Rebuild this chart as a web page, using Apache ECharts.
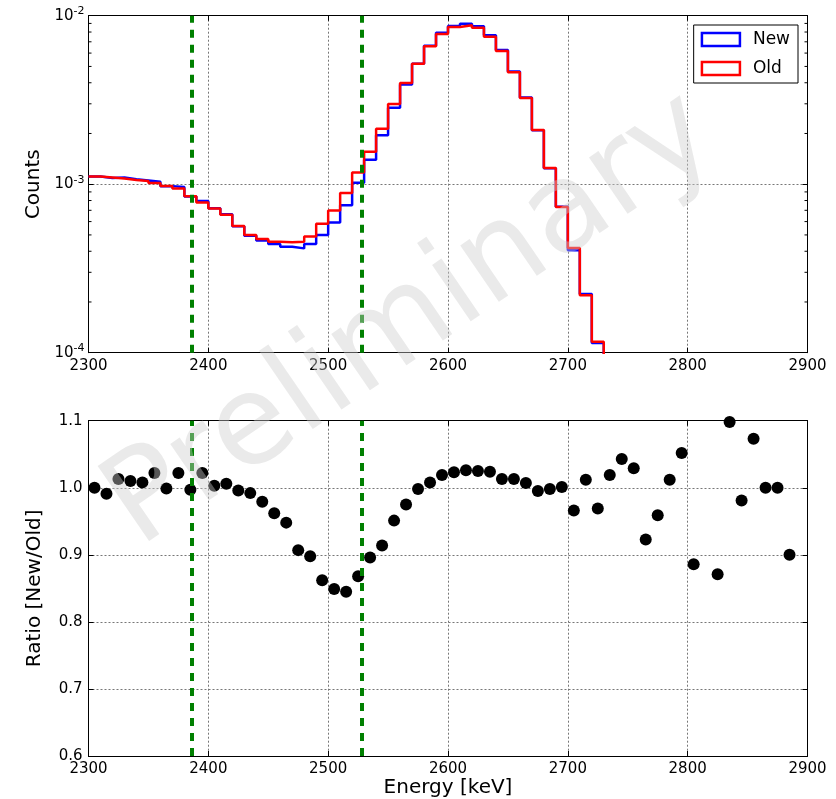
<!DOCTYPE html>
<html>
<head>
<meta charset="utf-8">
<script src="https://cdn.jsdelivr.net/npm/echarts@6/dist/echarts.min.js"></script>
<style>
  html, body { margin: 0; padding: 0; background: #fff; }
  #main { width: 836px; height: 799px; }
</style>
</head>
<body>
<div id="main"></div>
<script>
// left edges of the 10 keV bins (keV)
var binEdges = [2300, 2310, 2320, 2330, 2340, 2350, 2360, 2370, 2380, 2390,
  2400, 2410, 2420, 2430, 2440, 2450, 2460, 2470, 2480, 2490,
  2500, 2510, 2520, 2530, 2540, 2550, 2560, 2570, 2580, 2590,
  2600, 2610, 2620, 2630, 2640, 2650, 2660, 2670, 2680, 2690,
  2700, 2710, 2720];
var histEnd = 2730;

// counts per bin
var newCounts = [1.11e-3, 1.088e-3, 1.095e-3, 1.07e-3, 1.053e-3, 1.035e-3, 0.974e-3, 0.962e-3, 0.845e-3, 0.795e-3,
  0.72e-3, 0.663e-3, 0.563e-3, 0.495e-3, 0.463e-3, 0.441e-3, 0.426e-3, 0.416e-3, 0.442e-3, 0.5e-3,
  0.593e-3, 0.75e-3, 1.02e-3, 1.395e-3, 1.95e-3, 2.84e-3, 3.9e-3, 5.18e-3, 6.63e-3, 7.93e-3,
  8.7e-3, 8.95e-3, 8.65e-3, 7.65e-3, 6.26e-3, 4.66e-3, 3.27e-3, 2.09e-3, 1.245e-3, 0.734e-3,
  0.405e-3, 0.223e-3, 0.114e-3];
var oldCounts = [1.11e-3, 1.097e-3, 1.08e-3, 1.06e-3, 1.045e-3, 1.016e-3, 0.975e-3, 0.944e-3, 0.847e-3, 0.78e-3,
  0.718e-3, 0.659e-3, 0.565e-3, 0.499e-3, 0.473e-3, 0.456e-3, 0.452e-3, 0.456e-3, 0.49e-3, 0.583e-3,
  0.698e-3, 0.887e-3, 1.175e-3, 1.56e-3, 2.13e-3, 2.99e-3, 3.99e-3, 5.19e-3, 6.58e-3, 7.79e-3,
  8.57e-3, 8.77e-3, 8.49e-3, 7.5e-3, 6.18e-3, 4.61e-3, 3.25e-3, 2.1e-3, 1.247e-3, 0.733e-3,
  0.418e-3, 0.219e-3, 0.116e-3];

// ratio New/Old at bin centres
var ratioEnergy = [2305, 2315, 2325, 2335, 2345, 2355, 2365, 2375, 2385, 2395,
  2405, 2415, 2425, 2435, 2445, 2455, 2465, 2475, 2485, 2495,
  2505, 2515, 2525, 2535, 2545, 2555, 2565, 2575, 2585, 2595,
  2605, 2615, 2625, 2635, 2645, 2655, 2665, 2675, 2685, 2695,
  2705, 2715, 2725, 2735, 2745, 2755, 2765, 2775, 2785, 2795,
  2805, 2825, 2835, 2845, 2855, 2865, 2875, 2885];
var ratioValues = [1.0, 0.991, 1.013, 1.01, 1.008, 1.022, 0.999, 1.022, 0.997, 1.022,
  1.003, 1.006, 0.996, 0.992, 0.979, 0.962, 0.948, 0.907, 0.898, 0.862,
  0.849, 0.845, 0.868, 0.896, 0.914, 0.951, 0.975, 0.998, 1.008, 1.019,
  1.023, 1.026, 1.025, 1.024, 1.013, 1.013, 1.007, 0.995, 0.998, 1.001,
  0.966, 1.012, 0.969, 1.019, 1.043, 1.029, 0.923, 0.959, 1.012, 1.052,
  0.886, 0.871, 1.098, 0.981, 1.073, 1.0, 1.0, 0.9];

// region of interest lines
var roiLines = [2386, 2528];

// minor ticks of the log axis
var logMinorTicks = [2e-4, 3e-4, 4e-4, 5e-4, 6e-4, 7e-4, 8e-4, 9e-4,
  2e-3, 3e-3, 4e-3, 5e-3, 6e-3, 7e-3, 8e-3, 9e-3];

var font = 'DejaVu Sans';

function stepData(counts) {
  var d = [];
  for (var i = 0; i < binEdges.length; i++) d.push([binEdges[i], counts[i]]);
  d.push([histEnd, 1e-7]); // drops off the bottom after the last bin
  return d;
}

var scatterData = [];
for (var i = 0; i < ratioEnergy.length; i++) scatterData.push([ratioEnergy[i], ratioValues[i]]);

var gridLine = { show: true, lineStyle: { color: '#777', type: [2, 2], width: 1 } };
var axisLine = { show: true, onZero: false, lineStyle: { color: '#000', width: 1 } };
var tickIn = { show: true, inside: true, length: 5, lineStyle: { color: '#000' } };

function xAxisFor(grid, pos, labels) {
  return {
    type: 'value', gridIndex: grid, position: pos, min: 2300, max: 2900, interval: 100,
    axisLine: axisLine, axisTick: tickIn,
    axisLabel: {
      show: labels, color: '#000', fontFamily: font, fontSize: 15, margin: 6,
      formatter: function (v) { return String(v); }
    },
    splitLine: labels ? gridLine : { show: false }
  };
}

var roiMark = {
  silent: true, symbol: 'none', label: { show: false },
  lineStyle: { color: '#008000', width: 4, type: [8, 7], opacity: 1 },
  data: roiLines.map(function (v) { return { xAxis: v }; })
};

var option = {
  animation: false,
  backgroundColor: '#fff',
  grid: [
    { left: 88.5, top: 15.7, width: 719, height: 337 },
    { left: 88.5, top: 420.7, width: 719, height: 337.6 }
  ],
  legend: {
    right: 38, top: 25, orient: 'vertical',
    backgroundColor: '#fff', borderColor: '#000', borderWidth: 1, borderRadius: 0,
    padding: [6, 8, 6, 7], itemGap: 12, itemWidth: 38, itemHeight: 13,
    textStyle: { fontFamily: font, fontSize: 17, color: '#000', padding: [0, 0, 0, 8] },
    data: [
      { name: 'New', icon: 'rect', itemStyle: { color: 'rgba(0,0,0,0)', borderColor: '#0000ff', borderWidth: 2.5 } },
      { name: 'Old', icon: 'rect', itemStyle: { color: 'rgba(0,0,0,0)', borderColor: '#ff0000', borderWidth: 2.5 } }
    ]
  },
  xAxis: [
    xAxisFor(0, 'bottom', true),
    xAxisFor(0, 'top', false),
    Object.assign(xAxisFor(1, 'bottom', true), {
      name: 'Energy [keV]', nameLocation: 'middle', nameGap: 22,
      nameTextStyle: { fontFamily: font, fontSize: 20, color: '#000' }
    }),
    xAxisFor(1, 'top', false)
  ],
  yAxis: [
    {
      type: 'log', logBase: 10, gridIndex: 0, min: 1e-4, max: 1e-2, position: 'left',
      name: 'Counts', nameLocation: 'middle', nameGap: 44,
      nameTextStyle: { fontFamily: font, fontSize: 20, color: '#000' },
      axisLine: axisLine, axisTick: tickIn, splitLine: gridLine,
      axisLabel: {
        color: '#000', margin: 4,
        formatter: function (v) {
          var e = Math.round(Math.log(v) / Math.LN10);
          return '{b|10}{s|' + e + '}';
        },
        rich: {
          b: { fontFamily: font, fontSize: 15, color: '#000' },
          s: { fontFamily: font, fontSize: 11, color: '#000', padding: [0, 0, 9, 0] }
        }
      }
    },
    {
      type: 'log', logBase: 10, gridIndex: 0, min: 1e-4, max: 1e-2, position: 'right',
      axisLine: axisLine, axisTick: tickIn, axisLabel: { show: false }, splitLine: { show: false }
    },
    {
      type: 'value', gridIndex: 1, min: 0.6, max: 1.1, interval: 0.1, position: 'left',
      name: 'Ratio [New/Old]', nameLocation: 'middle', nameGap: 44,
      nameTextStyle: { fontFamily: font, fontSize: 20, color: '#000' },
      axisLine: axisLine, axisTick: tickIn, splitLine: gridLine,
      axisLabel: {
        color: '#000', fontFamily: font, fontSize: 15, margin: 6,
        formatter: function (v) { return v.toFixed(1); }
      }
    },
    {
      type: 'value', gridIndex: 1, min: 0.6, max: 1.1, interval: 0.1, position: 'right',
      axisLine: axisLine, axisTick: tickIn, axisLabel: { show: false }, splitLine: { show: false }
    }
  ],
  series: [
    {
      name: 'New', type: 'line', step: 'end', xAxisIndex: 0, yAxisIndex: 0,
      data: stepData(newCounts), symbol: 'none', clip: true,
      lineStyle: { color: '#0000ff', width: 2.5 }, itemStyle: { color: '#0000ff' }, z: 3
    },
    {
      name: 'Old', type: 'line', step: 'end', xAxisIndex: 0, yAxisIndex: 0,
      data: stepData(oldCounts), symbol: 'none', clip: true,
      lineStyle: { color: '#ff0000', width: 2.5 }, itemStyle: { color: '#ff0000' }, z: 4,
      markLine: roiMark
    },
    {
      // minor ticks on both sides of the log axis
      type: 'custom', xAxisIndex: 0, yAxisIndex: 0, silent: true, z: 5,
      data: logMinorTicks.map(function (v) { return [2300, v]; }),
      renderItem: function (params, api) {
        var v = api.value(1);
        var l = api.coord([2300, v]);
        var r = api.coord([2900, v]);
        return {
          type: 'group', children: [
            { type: 'line', shape: { x1: l[0], y1: l[1], x2: l[0] + 3, y2: l[1] }, style: { stroke: '#000', lineWidth: 1 } },
            { type: 'line', shape: { x1: r[0], y1: r[1], x2: r[0] - 3, y2: r[1] }, style: { stroke: '#000', lineWidth: 1 } }
          ]
        };
      }
    },
    {
      name: 'Ratio', type: 'scatter', xAxisIndex: 2, yAxisIndex: 2,
      data: scatterData, symbol: 'circle', symbolSize: 12,
      itemStyle: { color: '#000', opacity: 1 }, z: 3,
      markLine: roiMark
    }
  ],
  graphic: [
    {
      type: 'text', x: 412, y: 322, rotation: 0.6, z: 100, silent: true,
      style: {
        text: 'Preliminary', fontFamily: font, fontSize: 125,
        fill: 'rgba(206,206,206,0.42)', align: 'center', verticalAlign: 'middle'
      }
    }
  ]
};

var chart = echarts.init(document.getElementById('main'));
chart.setOption(option);
</script>
</body>
</html>
